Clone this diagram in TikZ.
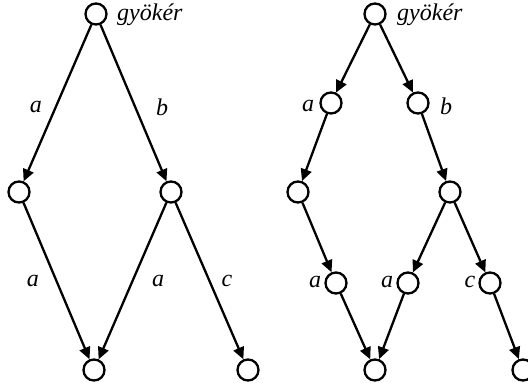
\documentclass[tikz,border=0pt]{standalone}
\usepackage{fontspec}
\setmainfont{Liberation Serif}
\usetikzlibrary{arrows.meta}
\begin{document}
\begin{tikzpicture}[x=1pt,y=-1pt,
  vert/.style={circle,draw,line width=2.3pt,minimum size=21pt,inner sep=0pt},
  edge/.style={line width=2.3pt,-{Triangle[length=12pt,width=11pt]}},
  lbl/.style={inner sep=0pt,font=\fontsize{24}{26}\selectfont\itshape}]
\useasboundingbox (0,0) rectangle (528,383);
% left tree
\node[vert] (r1) at (96,14) {};
\node[vert] (l1) at (19,192) {};
\node[vert] (l2) at (171,192) {};
\node[vert] (l3) at (94,370) {};
\node[vert] (l4) at (248,370) {};
\node[lbl,anchor=west] (g1) at (117,15) {gyökér};
\draw[edge] (r1) -- (l1);
\draw[edge] (r1) -- (l2);
\draw[edge] (l1) -- (l3);
\draw[edge] (l2) -- (l3);
\draw[edge] (l2) -- (l4);
\node[lbl] (t1) at (36,107) {a};
\node[lbl] (t2) at (162,107) {b};
\node[lbl] (t3) at (33,281) {a};
\node[lbl] (t4) at (158,281) {a};
\node[lbl] (t5) at (227,281) {c};
% right tree
\node[vert] (r2) at (375,14) {};
\node[vert] (m1) at (331,103) {};
\node[vert] (m2) at (418,103) {};
\node[vert] (m3) at (298,192) {};
\node[vert] (m4) at (450,192) {};
\node[vert] (m5) at (336,283) {};
\node[vert] (m6) at (408,283) {};
\node[vert] (m7) at (490,283) {};
\node[vert] (m8) at (375,370) {};
\node[vert] (m9) at (523,370) {};
\node[lbl,anchor=west] (g2) at (397,15) {gyökér};
\draw[edge] (r2) -- (m1);
\draw[edge] (r2) -- (m2);
\draw[edge] (m1) -- (m3);
\draw[edge] (m2) -- (m4);
\draw[edge] (m3) -- (m5);
\draw[edge] (m4) -- (m6);
\draw[edge] (m4) -- (m7);
\draw[edge] (m5) -- (m8);
\draw[edge] (m6) -- (m8);
\draw[edge] (m7) -- (m9);
\node[lbl] (s1) at (308,106) {a};
\node[lbl] (s2) at (446,106) {b};
\node[lbl] (s3) at (315,282) {a};
\node[lbl] (s4) at (387,282) {a};
\node[lbl] (s5) at (470,282) {c};
\end{tikzpicture}
\end{document}
